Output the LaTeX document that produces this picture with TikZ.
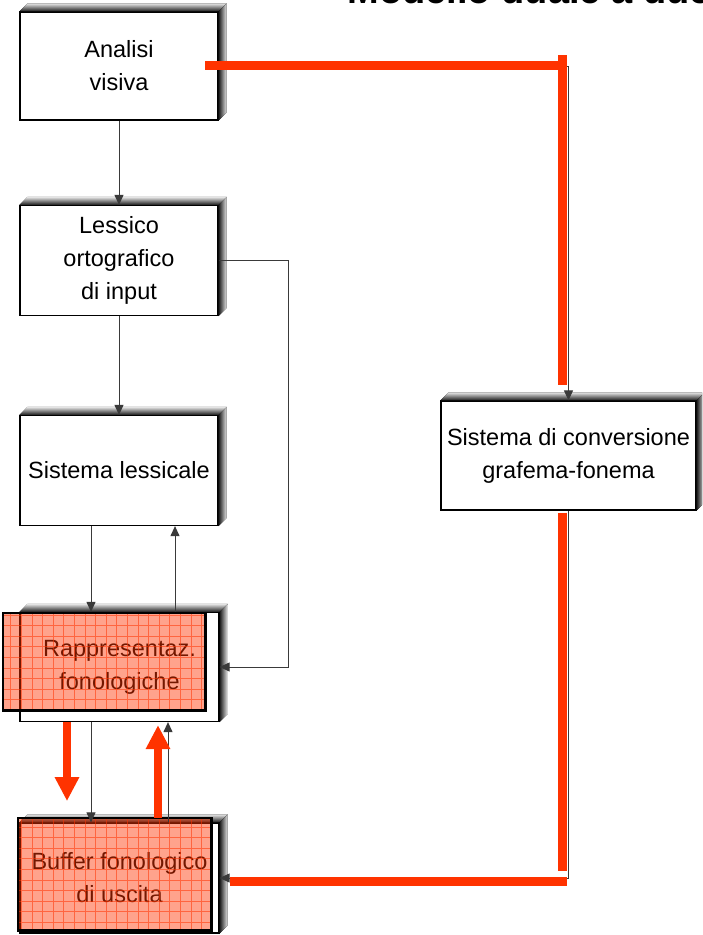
\documentclass[tikz,border=0pt]{standalone}
\usepackage{fontspec}
\setmainfont{Liberation Sans}
\usetikzlibrary{arrows.meta}
\definecolor{rosso}{HTML}{FF3300}
\definecolor{filo}{HTML}{3A3A3A}

\begin{document}
\begin{tikzpicture}[x=1pt, y=-1pt,
	box/.style={draw=black, line width=1.2pt, fill=white, minimum width=198pt, minimum height=110pt, inner sep=0pt, align=center, font=\fontsize{23.5}{33}\selectfont},
	redbox/.style={fill=rosso, fill opacity=.45, inner sep=0pt},
	conn/.style={draw=filo, line width=1pt, -{Triangle[width=9pt,length=10pt]}},
	fat/.style={draw=rosso, line width=9pt},
	fatarrow/.style={draw=rosso, line width=8pt, -{Triangle[width=23pt,length=24pt]}}]
\useasboundingbox (0,0) rectangle (702,935);
\clip (0,0) rectangle (702,935);
\node[anchor=base west, font=\fontsize{38}{40}\selectfont\bfseries] (titolo) at (344,3) {Modello duale a due vie};
%
\node[box, minimum height=108pt] (visiva) at (119,66) {Analisi\\visiva};
\node[box] (lessico) at (119,260.5) {Lessico\\ortografico\\di input};
\node[box] (lessicale) at (119,470.5) {Sistema lessicale};
\node[box, minimum width=199pt, minimum height=109pt] (rappr) at (119.5,667) {Rappresentaz.\\fonologiche};
\node[box, minimum width=199pt] (buffer) at (119.5,878) {Buffer fonologico\\di uscita};
\node[box, minimum width=255pt, minimum height=109pt] (conv) at (568.5,455.5) {Sistema di conversione\\grafema-fonema};
%
\foreach \n in {visiva, lessico, lessicale, rappr, buffer, conv}{
	\fill[top color=gray!20, bottom color=black!90] (\n.north west) -- ++(8,-8) -- ([xshift=8pt,yshift=8pt]\n.north east) -- (\n.north east) -- cycle;
	\fill[left color=black!90, right color=gray!20] (\n.north east) -- ++(8,-8) -- ([xshift=8pt,yshift=8pt]\n.south east) -- (\n.south east) -- cycle;
}
%
\node[redbox, minimum width=202pt, minimum height=97pt] (rappr-r) at (104,661.5) {};
\node[redbox, minimum width=193pt, minimum height=112pt] (buffer-r) at (114.5,874) {};
\foreach \n in {rappr-r, buffer-r}{
	\begin{scope}
	\clip (\n.north west) rectangle (\n.south east);
	\draw[rosso, opacity=.55, line width=.6pt, step=10.6pt] (\n.north west) grid (\n.south east);
	\end{scope}
	\draw[line width=2.6pt] (\n.north west) rectangle (\n.south east);
}
%
\coordinate (c1) at ([xshift=-28pt]lessicale.south);
\coordinate (c2) at ([xshift=56pt]lessicale.south);
\coordinate (c3) at ([xshift=-28.5pt]rappr.south);
\coordinate (c4) at ([xshift=48.5pt]rappr.south);
\draw[conn] (visiva) -- (lessico);
\draw[conn] (lessico) -- (lessicale);
\draw[conn] (lessico.east) -- ++(70,0) |- (rappr.east);
\draw[conn] (c1) -- (c1 |- rappr.north);
\draw[conn] (c2 |- rappr.north) -- (c2);
\draw[conn] (c3) -- (c3 |- buffer.north);
\draw[conn] (c4 |- buffer.north) -- (c4);
\draw[conn] (visiva.east) -| (conv.north);
\draw[conn] (conv.south) |- (buffer.east);
%
\coordinate (r1) at ([xshift=-52.5pt]rappr.south);
\coordinate (r2) at ([xshift=38.5pt,yshift=-3pt]rappr.south);
\coordinate (v1) at ([xshift=-6pt]conv.north |- 0,55);
\coordinate (v2) at ([xshift=-6pt,yshift=-2pt]conv.south);
\draw[fatarrow] (r1) -- ++(0,79);
\draw[fatarrow] (r2 |- buffer-r.north) -- (r2);
\draw[fat] (205,65) -- (v1 |- 0,65);
\draw[fat] (v1) -- ([xshift=-6pt,yshift=15pt]conv.north);
\draw[fat] (v2) -- (v2 |- 0,871);
\draw[fat] ([xshift=10pt]buffer.east |- 0,881.5) -- ([xshift=4.5pt]v2 |- 0,881.5);
\end{tikzpicture}
\end{document}
